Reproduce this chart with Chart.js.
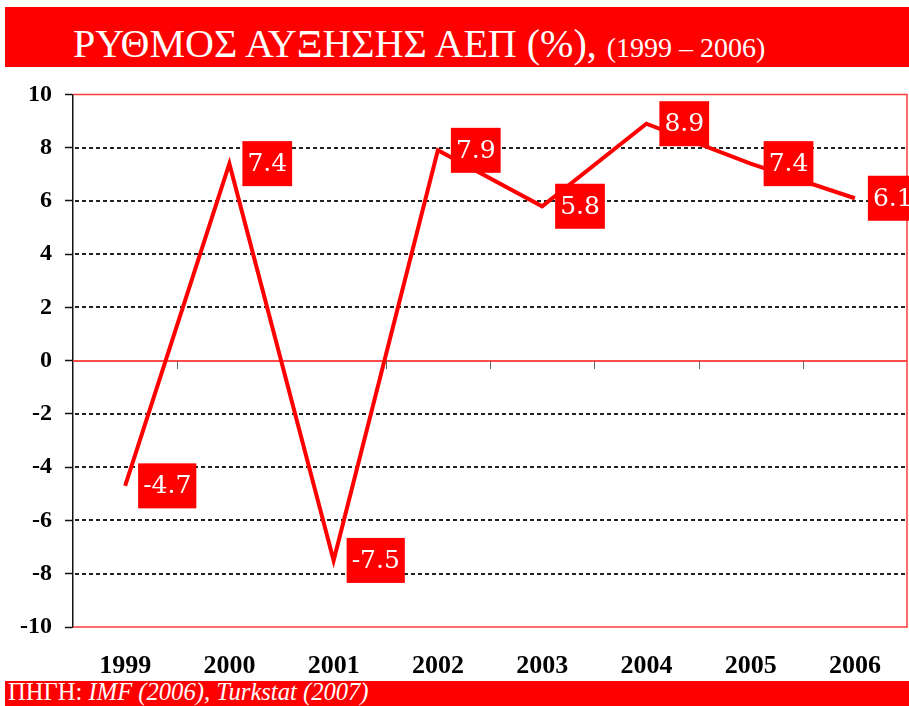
<!DOCTYPE html>
<html>
<head>
<meta charset="utf-8">
<script src="https://cdn.jsdelivr.net/npm/chart.js@4"></script>
<style>
html,body{margin:0;padding:0;background:#fff;width:909px;height:706px;overflow:hidden;position:relative;}
#title{position:absolute;left:5px;top:7px;width:904px;height:60px;background:#ff0000;color:#fff;overflow:hidden;}
#title .line{position:absolute;left:68px;top:16.5px;line-height:40px;white-space:nowrap;font-family:"Liberation Serif","Times New Roman",serif;font-size:40px;}
#title .sub{font-size:28px;}
#source{position:absolute;left:5px;top:681px;width:904px;height:25px;background:#ff0000;color:#fff;overflow:hidden;}
#source .line{position:absolute;left:3px;top:-1px;line-height:24px;white-space:nowrap;font-family:"Liberation Serif","Times New Roman",serif;font-size:24.6px;}
#wrap{position:absolute;left:0;top:67px;width:909px;height:614px;}
</style>
</head>
<body>
<div id="title"><div class="line">ΡΥΘΜΟΣ ΑΥΞΗΣΗΣ ΑΕΠ (%), <span class="sub">(1999 – 2006)</span></div></div>
<div id="wrap"><canvas id="c" width="909" height="614"></canvas></div>
<div id="source"><div class="line">ΠΗΓΗ: <i>IMF (2006), Turkstat (2007)</i></div></div>
<script>
const years = ['1999', '2000', '2001', '2002', '2003', '2004', '2005', '2006'];
const growth = [-4.7, 7.4, -7.5, 7.9, 5.8, 8.9, 7.4, 6.1];
const yMin = -10;
const yMax = 10;
const yStep = 2;

const framePlugin = {
  id: 'frame',
  beforeDatasetsDraw(chart) {
    const {ctx, chartArea: {left, right, top, bottom}, scales: {x, y}} = chart;
    ctx.save();
    ctx.strokeStyle = '#222';
    ctx.lineWidth = 2;
    ctx.setLineDash([4, 3]);
    y.ticks.forEach(t => {
      if (t.value === 0 || t.value === yMin || t.value === yMax) return;
      const py = Math.round(y.getPixelForValue(t.value));
      ctx.beginPath(); ctx.moveTo(left + 2, py); ctx.lineTo(right, py); ctx.stroke();
    });
    ctx.setLineDash([]);
    const y0 = Math.round(y.getPixelForValue(0));
    ctx.strokeStyle = '#ff4a4a';
    ctx.lineWidth = 2;
    ctx.beginPath(); ctx.moveTo(left, y0); ctx.lineTo(right, y0); ctx.stroke();
    ctx.strokeStyle = '#666';
    ctx.lineWidth = 1;
    for (let i = 1; i < years.length; i++) {
      const bx = Math.round((x.getPixelForValue(i - 1) + x.getPixelForValue(i)) / 2) + 0.5;
      ctx.beginPath(); ctx.moveTo(bx, y0); ctx.lineTo(bx, y0 + 8); ctx.stroke();
    }
    ctx.strokeStyle = '#ff3c3c';
    ctx.lineWidth = 1.5;
    const yt = y.getPixelForValue(yMax), yb = y.getPixelForValue(yMin);
    ctx.beginPath();
    ctx.moveTo(left, yt); ctx.lineTo(right, yt); ctx.lineTo(right, yb); ctx.lineTo(left, yb);
    ctx.stroke();
    ctx.restore();
  }
};

const labelPlugin = {
  id: 'valueLabels',
  afterDatasetsDraw(chart) {
    const {ctx} = chart;
    const meta = chart.getDatasetMeta(0);
    ctx.save();
    ctx.font = '25px "DejaVu Serif", serif';
    ctx.textBaseline = 'middle';
    ctx.textAlign = 'left';
    meta.data.forEach((pt, i) => {
      const txt = growth[i].toFixed(1);
      const w = ctx.measureText(txt).width + 10;
      const h = 45;
      const bx = pt.x + 13;
      const by = pt.y - h / 2;
      ctx.fillStyle = '#ff0000';
      ctx.fillRect(bx, by, w, h);
      ctx.fillStyle = '#ffffff';
      ctx.fillText(txt, bx + 5, pt.y + 1);
    });
    ctx.restore();
  }
};

new Chart(document.getElementById('c'), {
  type: 'line',
  data: {
    labels: years,
    datasets: [{
      data: growth,
      borderColor: '#ff0000',
      borderWidth: 4,
      pointRadius: 0,
      pointHoverRadius: 0,
      tension: 0,
      fill: false,
      borderJoinStyle: 'miter',
      borderCapStyle: 'butt',
      clip: false
    }]
  },
  options: {
    responsive: false,
    animation: false,
    devicePixelRatio: 1,
    events: [],
    layout: {padding: {top: 27, right: 2, left: 0, bottom: 0}},
    plugins: {legend: {display: false}, tooltip: {enabled: false}, title: {display: false}},
    scales: {
      x: {
        offset: true,
        grid: {display: false, drawTicks: false},
        border: {display: false},
        ticks: {
          font: {family: '"Liberation Serif", "Times New Roman", serif', size: 26, weight: 'bold'},
          color: '#000',
          padding: 24,
          maxRotation: 0,
          autoSkip: false
        },
        afterFit(scale) { scale.height = 54; }
      },
      y: {
        min: yMin,
        max: yMax,
        grid: {drawOnChartArea: false, drawTicks: true, tickLength: 8, tickColor: '#111', tickWidth: 1.5},
        border: {display: true, color: '#111', width: 1.5},
        ticks: {
          stepSize: yStep,
          font: {family: '"Liberation Serif", "Times New Roman", serif', size: 24, weight: 'bold'},
          color: '#000',
          padding: 13
        },
        afterFit(scale) { scale.width = 73; }
      }
    }
  },
  plugins: [framePlugin, labelPlugin]
});
</script>
</body>
</html>
